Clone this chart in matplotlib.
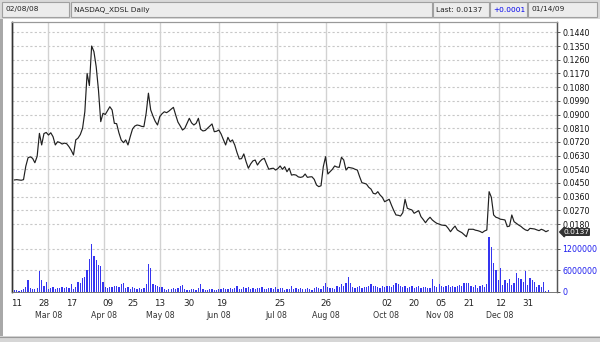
import matplotlib
matplotlib.use('Agg')
import matplotlib.pyplot as plt
from matplotlib.patches import Rectangle
from matplotlib.transforms import blended_transform_factory
import numpy as np

# ---------------- data ----------------
price = [
    0.0470, 0.0472, 0.0470, 0.0468, 0.0472, 0.0560, 0.0616, 0.0622, 0.0612, 0.0583,
    0.0625, 0.0776, 0.0700, 0.0775, 0.0782, 0.0765, 0.0780, 0.0754, 0.0700, 0.0721,
    0.0716, 0.0706, 0.0712, 0.0708, 0.0689, 0.0665, 0.0634, 0.0733, 0.0745, 0.0768,
    0.0809, 0.0918, 0.1170, 0.1090, 0.1350, 0.1313, 0.1214, 0.1061, 0.0853, 0.0908,
    0.0900, 0.0925, 0.0951, 0.0930, 0.0842, 0.0840, 0.0780, 0.0733, 0.0715, 0.0733,
    0.0700, 0.0755, 0.0805, 0.0824, 0.0831, 0.0828, 0.0822, 0.0820, 0.0908, 0.1040,
    0.0930, 0.0890, 0.0855, 0.0831, 0.0886, 0.0905, 0.0918, 0.0912, 0.0922, 0.0935,
    0.0947, 0.0897, 0.0850, 0.0825, 0.0798, 0.0809, 0.0842, 0.0875, 0.0845, 0.0831,
    0.0842, 0.0875, 0.0803, 0.0792, 0.0795, 0.0809, 0.0822, 0.0838, 0.0787, 0.0790,
    0.0798, 0.0772, 0.0735, 0.0700, 0.0750, 0.0721, 0.0733, 0.0700, 0.0650, 0.0608,
    0.0610, 0.0641, 0.0590, 0.0547, 0.0575, 0.0595, 0.0601, 0.0568, 0.0590, 0.0605,
    0.0612, 0.0575, 0.0540, 0.0545, 0.0547, 0.0535, 0.0545, 0.0562, 0.0540, 0.0557,
    0.0524, 0.0547, 0.0502, 0.0505, 0.0502, 0.0490, 0.0487, 0.0491, 0.0509, 0.0487,
    0.0490, 0.0491, 0.0474, 0.0437, 0.0426, 0.0432, 0.0557, 0.0623, 0.0509, 0.0524,
    0.0540, 0.0562, 0.0555, 0.0553, 0.0619, 0.0601, 0.0535, 0.0553, 0.0550, 0.0547,
    0.0540, 0.0535, 0.0491, 0.0452, 0.0448, 0.0443, 0.0422, 0.0410, 0.0382, 0.0378,
    0.0393, 0.0371, 0.0356, 0.0327, 0.0335, 0.0343, 0.0305, 0.0270, 0.0240, 0.0238,
    0.0233, 0.0255, 0.0343, 0.0284, 0.0278, 0.0273, 0.0251, 0.0260, 0.0268, 0.0229,
    0.0210, 0.0189, 0.0210, 0.0225, 0.0207, 0.0195, 0.0185, 0.0180, 0.0174, 0.0172,
    0.0170, 0.0152, 0.0130, 0.0150, 0.0167, 0.0141, 0.0132, 0.0124, 0.0110, 0.0097,
    0.0146, 0.0146, 0.0146, 0.0140, 0.0137, 0.0132, 0.0124, 0.0135, 0.0141, 0.0393,
    0.0356, 0.0240, 0.0225, 0.0220, 0.0212, 0.0210, 0.0207, 0.0163, 0.0167, 0.0240,
    0.0196, 0.0185, 0.0174, 0.0165, 0.0152, 0.0142, 0.0137, 0.0152, 0.0150, 0.0148,
    0.0142, 0.0137, 0.0146, 0.0140, 0.0130, 0.0137,
]

volume = [
    40e3, 50e3, 30e3, 45e3, 60e3, 120e3, 325e3, 90e3, 60e3, 60e3,
    90e3, 585e3, 325e3, 150e3, 270e3, 60e3, 90e3, 120e3, 60e3, 90e3,
    90e3, 120e3, 90e3, 140e3, 90e3, 210e3, 60e3, 140e3, 260e3, 230e3,
    390e3, 400e3, 600e3, 900e3, 1330e3, 1000e3, 880e3, 740e3, 715e3, 270e3,
    140e3, 90e3, 140e3, 120e3, 170e3, 150e3, 120e3, 200e3, 230e3, 90e3,
    120e3, 60e3, 120e3, 90e3, 60e3, 90e3, 60e3, 90e3, 220e3, 770e3,
    650e3, 220e3, 180e3, 150e3, 140e3, 120e3, 60e3, 40e3, 60e3, 60e3,
    90e3, 60e3, 90e3, 150e3, 190e3, 60e3, 40e3, 50e3, 70e3, 60e3,
    50e3, 90e3, 200e3, 60e3, 40e3, 50e3, 60e3, 80e3, 50e3, 40e3,
    60e3, 80e3, 100e3, 70e3, 60e3, 110e3, 70e3, 90e3, 170e3, 60e3,
    80e3, 120e3, 90e3, 130e3, 70e3, 110e3, 60e3, 100e3, 90e3, 140e3,
    80e3, 60e3, 110e3, 90e3, 70e3, 120e3, 60e3, 90e3, 100e3, 50e3,
    80e3, 60e3, 170e3, 70e3, 90e3, 60e3, 110e3, 80e3, 60e3, 90e3,
    70e3, 50e3, 90e3, 120e3, 100e3, 70e3, 150e3, 230e3, 140e3, 90e3,
    100e3, 80e3, 150e3, 130e3, 200e3, 160e3, 230e3, 415e3, 240e3, 120e3,
    110e3, 130e3, 150e3, 110e3, 140e3, 120e3, 150e3, 200e3, 170e3, 170e3,
    120e3, 100e3, 150e3, 130e3, 170e3, 160e3, 120e3, 180e3, 230e3, 210e3,
    150e3, 120e3, 170e3, 90e3, 120e3, 160e3, 110e3, 130e3, 150e3, 100e3,
    120e3, 140e3, 110e3, 90e3, 350e3, 150e3, 120e3, 210e3, 160e3, 120e3,
    150e3, 180e3, 130e3, 160e3, 120e3, 170e3, 190e3, 150e3, 240e3, 250e3,
    230e3, 160e3, 120e3, 180e3, 100e3, 150e3, 180e3, 120e3, 210e3, 1515e3,
    1250e3, 790e3, 605e3, 310e3, 650e3, 180e3, 320e3, 250e3, 340e3, 180e3,
    230e3, 510e3, 390e3, 340e3, 280e3, 585e3, 180e3, 370e3, 320e3, 280e3,
    120e3, 180e3, 140e3, 280e3, 30e3, 40e3,
]

# x-axis tick labels (trading-day index -> day of month)
day_tick_idx = [1, 13, 25, 41, 52, 64, 77, 91, 117, 137, 164, 176, 188, 200, 214, 226]
day_tick_labels = ['11', '28', '17', '09', '25', '13', '30', '19', '25', '26',
                   '02', '20', '05', '21', '12', '31']
month_idx = [14.9, 39.6, 64.1, 90.1, 115.5, 137.2, 163.6, 187.1, 213.5]
month_labels = ['Mar 08', 'Apr 08', 'May 08', 'Jun 08', 'Jul 08', 'Aug 08',
                'Oct 08', 'Nov 08', 'Dec 08']

price_ticks = [0.0180, 0.0270, 0.0360, 0.0450, 0.0540, 0.0630, 0.0720, 0.0810,
               0.0900, 0.0990, 0.1080, 0.1170, 0.1260, 0.1350, 0.1440]
price_tick_labels = ['%.4f' % v for v in price_ticks]
vol_ticks = [0, 600000, 1200000]
vol_tick_labels = ['0', '6000000', '1200000']

header_texts = ['02/08/08', 'NASDAQ_XDSL Daily', 'Last: 0.0137', '+0.0001', '01/14/09']
last_price_label = '0.0137'

# ---------------- figure ----------------
W, H = 600, 342
FS = 5.7
plt.rcParams['font.family'] = ['DejaVu Sans']
fig = plt.figure(figsize=(W / 100, H / 100), dpi=100)
fig.patch.set_facecolor('white')

# background / header overlay in pixel coordinates
bg = fig.add_axes([0, 0, 1, 1], zorder=0)
bg.set_xlim(0, W)
bg.set_ylim(H, 0)
bg.axis('off')
bg.add_patch(Rectangle((0, 0), W, 19, fc='#d9d9d9', ec='none'))
boxes = [(2, 69), (71, 432), (433, 489), (490, 527), (528, 597)]
for (x0, x1), t in zip(boxes, header_texts):
    bg.add_patch(Rectangle((x0, 1.5), x1 - x0, 15, fc='#ececec', ec='#a0a0a0', lw=0.8))
    bg.text(x0 + 3, 9.5, t, fontsize=5.3, va='center', ha='left',
            color='#0000ee' if t.startswith('+') else '#222222')
bg.add_patch(Rectangle((0, 19), 3, H - 19, fc='#a8a8a8', ec='none'))
bg.add_patch(Rectangle((0, 336), W, 6, fc='#d6d6d6', ec='none'))
bg.plot([0, W], [336.5, 336.5], color='#9a9a9a', lw=0.8)

ax = fig.add_axes([12 / W, 1 - 292 / H, 545 / W, 270 / H], zorder=2)
ax.set_facecolor('white')
axv = ax.twinx()
axv.set_zorder(3)
axv.patch.set_visible(False)

n = len(price)
idx = np.arange(n)

ax.set_xlim(-1.07, 238.9)
ax.set_ylim(-0.02661, 0.15077)
axv.set_ylim(-11163, 7.523e6)

# grid
for v in price_ticks:
    ax.axhline(v, color='#c8c8c8', lw=0.8, ls=(0, (2, 2)), zorder=0)
for v in vol_ticks[1:]:
    ax.axhline(-0.02661 + (v + 11163) / (7.523e6 + 11163) * (0.15077 + 0.02661),
               color='#c8c8c8', lw=0.8, ls=(0, (2, 2)), zorder=0)
for m in month_idx:
    ax.axvline(m, color='#d2d2d2', lw=1.0, zorder=0)

ax.plot(idx, price, color='#202020', lw=0.85, zorder=3)
axv.bar(idx, volume, width=0.55, color='#3535f0', lw=0)

ax.set_xticks([])
ax.yaxis.tick_right()
ax.set_yticks(price_ticks)
ax.set_yticklabels(price_tick_labels)
ax.tick_params(axis='y', right=True, left=False, labelright=True, labelleft=False,
               length=2.5, width=0.7, pad=1.2, labelsize=FS, color='#555555',
               labelcolor='#111111')
axv.set_yticks(vol_ticks)
axv.set_yticklabels(vol_tick_labels)
axv.tick_params(axis='y', right=True, length=2.5, width=0.7, pad=1.2,
                labelsize=FS, color='#555555', labelcolor='#2020ee')

for a in (ax, axv):
    a.spines['left'].set_color('#333333')
    a.spines['left'].set_linewidth(1.0)
    a.spines['right'].set_color('#555555')
    a.spines['right'].set_linewidth(0.9)
    a.spines['top'].set_color('#999999')
    a.spines['top'].set_linewidth(0.8)
    a.spines['bottom'].set_color('#777777')
    a.spines['bottom'].set_linewidth(0.6)

tr = blended_transform_factory(ax.transData, fig.transFigure)
for i, lab in zip(day_tick_idx, day_tick_labels):
    ax.text(i, 1 - 303.8 / H, lab, transform=tr, ha='center', va='center',
            fontsize=FS + 0.6, color='#222222', clip_on=False)
for m, lab in zip(month_idx, month_labels):
    ax.text(m, 1 - 316 / H, lab, transform=tr, ha='center', va='center',
            fontsize=FS, color='#333333', clip_on=False)

# current price marker (sits just below the 0.0180 tick label)
fig.text(563 / W, 1 - 232 / H, last_price_label, fontsize=5.4, color='white',
         ha='left', va='center', zorder=5,
         bbox=dict(boxstyle='larrow,pad=0.04', fc='#333333', ec='#333333'))

fig.savefig('out.png', dpi=100)
